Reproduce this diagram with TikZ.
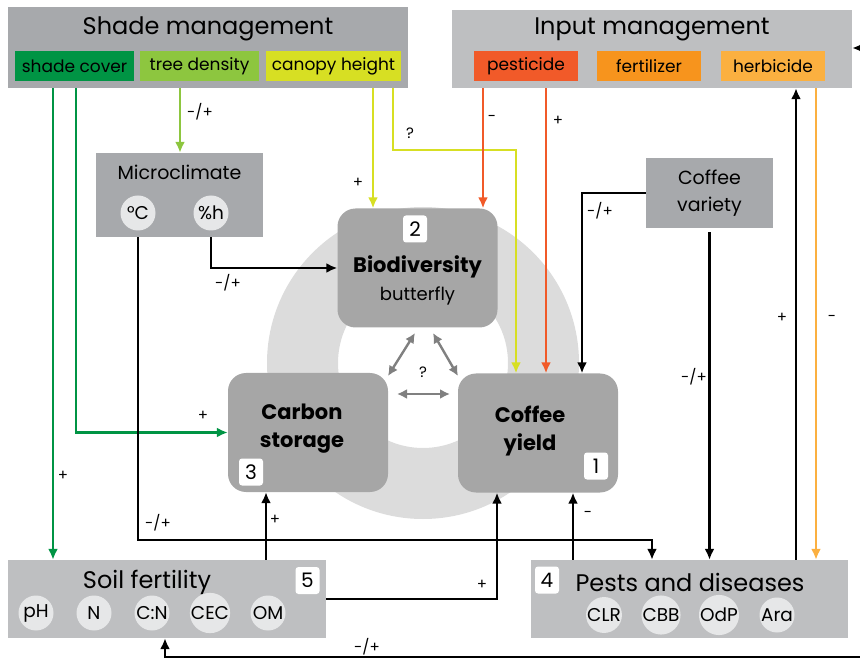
\documentclass[tikz,border=0pt]{standalone}
\usepackage{fontspec}
\setmainfont{Poppins}
\usetikzlibrary{arrows.meta}

\definecolor{boxgray}{HTML}{A7A9AC}
\definecolor{palegray}{HTML}{BEBFC1}
\definecolor{coregray}{HTML}{A6A6A6}
\definecolor{ringgray}{HTML}{DCDCDC}
\definecolor{dotgray}{HTML}{E6E7E8}
\definecolor{covergreen}{HTML}{009444}
\definecolor{treegreen}{HTML}{8DC63F}
\definecolor{canopyyellow}{HTML}{D7DF23}
\definecolor{pestred}{HTML}{F15A29}
\definecolor{fertorange}{HTML}{F7941D}
\definecolor{herbamber}{HTML}{FBB040}
\definecolor{qgray}{HTML}{808080}

\tikzset{
  panel/.style={fill=#1, inner sep=0pt},
  title/.style={inner sep=0pt, font=\fontsize{24}{28}\selectfont},
  tag/.style={fill=#1, inner sep=0pt, minimum height=30, font=\fontsize{17}{20}\selectfont},
  dot/.style={circle, fill=dotgray, inner sep=0pt, minimum size=35, font=\fontsize{18.5}{20}\selectfont},
  core/.style={fill=coregray, rounded corners=18, inner sep=0pt, minimum width=160, minimum height=119},
  num/.style={fill=white, rounded corners=3, inner sep=0pt, minimum width=24, minimum height=27, font=\fontsize{20}{24}\selectfont},
  sign/.style={inner sep=0pt, font=\fontsize{15}{17}\selectfont},
  arr/.style={line width=2.4, -{Latex[length=11,width=10]}},
  dbl/.style={qgray, line width=2.4, {Latex[length=10,width=10]}-{Latex[length=10,width=10]}},
}

\begin{document}
\begin{tikzpicture}[x=1pt,y=-1pt]
  \useasboundingbox (0,0) rectangle (860,660);

  % ring behind the three services
  \fill[ringgray, even odd rule] (423,363) circle [radius=156] (423,363) circle [radius=85];

  % management boxes
  \node[panel=boxgray, minimum width=400, minimum height=81] (shade) at (208,47.5) {};
  \node[title] at (208,29) {Shade management};
  \node[tag=covergreen, minimum width=119] (cover) at (74.5,66) {shade cover};
  \node[tag=treegreen, minimum width=119] (density) at (199.5,66) {tree density};
  \node[tag=canopyyellow, minimum width=135] (canopy) at (333.5,66) {canopy height};

  \node[panel=palegray, minimum width=400, minimum height=78] (input) at (652,49) {};
  \node[title] at (652,29) {Input management};
  \node[tag=pestred, minimum width=104] (pesticide) at (526,66) {pesticide};
  \node[tag=fertorange, minimum width=104] (fertilizer) at (649,66) {fertilizer};
  \node[tag=herbamber, minimum width=104] (herbicide) at (773,66) {herbicide};

  \node[panel=boxgray, minimum width=167, minimum height=84] (micro) at (179.5,195) {};
  \node[inner sep=0pt, font=\fontsize{19}{22}\selectfont] at (179.5,172) {Microclimate};
  \node[dot] (degc) at (138,213) {°C};
  \node[dot] (hum) at (211,213) {\%h};

  \node[panel=boxgray, minimum width=127, minimum height=70, align=center,
        font=\fontsize{19}{27}\selectfont] (variety) at (709.5,193) {Coffee\\variety};

  % services
  \node[core] (bio) at (417.5,268) {};
  \node[inner sep=0pt, font=\bfseries\fontsize{21}{24}\selectfont] at (417.5,267) {Biodiversity};
  \node[inner sep=0pt, font=\fontsize{18}{22}\selectfont] at (417.5,296) {butterfly};
  \node[num] (n2) at (415,229) {2};

  \node[core] (carbon) at (308,432.5) {};
  \node[inner sep=0pt, align=center, font=\bfseries\fontsize{21}{28}\selectfont] at (302,429) {Carbon\\storage};
  \node[num] (n3) at (251,472) {3};

  \node[core] (yield) at (538,433) {};
  \node[inner sep=0pt, align=center, font=\bfseries\fontsize{21}{28}\selectfont] at (530,431) {Coffee\\yield};
  \node[num] (n1) at (596,466) {1};

  % soil and pests
  \node[panel=palegray, minimum width=318, minimum height=78] (soil) at (167,599) {};
  \node[title] at (147,582) {Soil fertility};
  \node[num] (n5) at (307.5,580.5) {5};
  \node[dot] (ph) at (36,613) {pH};
  \node[dot] (nit) at (94,613) {N};
  \node[dot] (cn) at (152,613) {C:N};
  \node[dot] (cec) at (210,613) {CEC};
  \node[dot] (om) at (268,613) {OM};

  \node[panel=palegray, minimum width=317, minimum height=78] (pests) at (689.5,599) {};
  \node[title] at (690,582) {Pests and diseases};
  \node[num] (n4) at (547,580) {4};
  \node[dot] (clr) at (604,615) {CLR};
  \node[dot] (cbb) at (661,615) {CBB};
  \node[dot] (odp) at (719,615) {OdP};
  \node[dot] (ara) at (777,615) {Ara};

  % line positions
  \coordinate (xa) at (53,0);
  \coordinate (xb) at (76,0);
  \coordinate (xc) at (180,0);
  \coordinate (xd) at (373,0);
  \coordinate (xe) at (393,0);
  \coordinate (qbend) at (516,150);
  \coordinate (xf) at (483,0);
  \coordinate (xg) at (546,0);
  \coordinate (xh) at (582,0);
  \coordinate (tbend) at (652,540);
  \coordinate (xi) at (266,0);
  \coordinate (xj) at (497,0);
  \coordinate (xk) at (573,0);
  \coordinate (xl) at (796,0);
  \coordinate (xm) at (816,0);
  \coordinate (xn) at (165,0);
  \coordinate (loopin) at (864,657);
  \coordinate (inright) at (866,48);

  % connectors
  \draw[arr, covergreen] (shade.south -| xa) -- (soil.north -| xa);
  \draw[arr, covergreen] (shade.south -| xb) |- (carbon.west);
  \draw[arr, treegreen] (shade.south -| xc) -- (micro.north -| xc);
  \draw[arr, canopyyellow] (shade.south -| xd) -- (bio.north -| xd);
  \draw[arr, canopyyellow] (shade.south -| xe) |- (qbend) -- (yield.north -| qbend);
  \draw[arr, pestred] (input.south -| xf) -- (bio.north -| xf);
  \draw[arr, pestred] (input.south -| xg) -- (yield.north -| xg);
  \draw[arr] (variety.west) -| (yield.north -| xh);
  \draw[arr] (micro.south -| hum) |- (bio.west);
  \draw[arr] (micro.south -| degc) |- (tbend) -- (pests.north -| tbend);
  \draw[arr] (soil.north -| xi) -- (carbon.south -| xi);
  \draw[arr] (soil.east) -| (yield.south -| xj);
  \draw[arr] (pests.north -| xk) -- (yield.south -| xk);
  \draw[arr, shorten <=4] (variety.south) -- (pests.north -| variety.south);
  \draw[arr] (pests.north -| xl) -- (input.south -| xl);
  \draw[arr, herbamber] (input.south -| xm) -- (pests.north -| xm);
  \draw[arr] (loopin) -| (soil.south -| xn);
  \draw[arr] (inright) -- (input.east |- inright);

  % trade-offs between services
  \draw[dbl] (415,333) -- (388,376);
  \draw[dbl] (433,333) -- (458,376);
  \draw[dbl] (397,394) -- (450,394);
  \node[sign] at (423,372) {?};

  % signs
  \node[sign] at (63,476) {+};
  \node[sign] at (203,416) {+};
  \node[sign] at (200,112) {-/+};
  \node[sign] at (358,183) {+};
  \node[sign] at (410,133) {?};
  \node[sign] at (492,118) {-};
  \node[sign] at (558,121) {+};
  \node[sign] at (600,211) {-/+};
  \node[sign] at (228,283) {-/+};
  \node[sign] at (158,523) {-/+};
  \node[sign] at (275,520) {+};
  \node[sign] at (482,585) {+};
  \node[sign] at (588,514) {-};
  \node[sign] at (694,377) {-/+};
  \node[sign] at (782,318) {+};
  \node[sign] at (832,318) {-};
  \node[sign] at (367,647) {-/+};
\end{tikzpicture}
\end{document}
